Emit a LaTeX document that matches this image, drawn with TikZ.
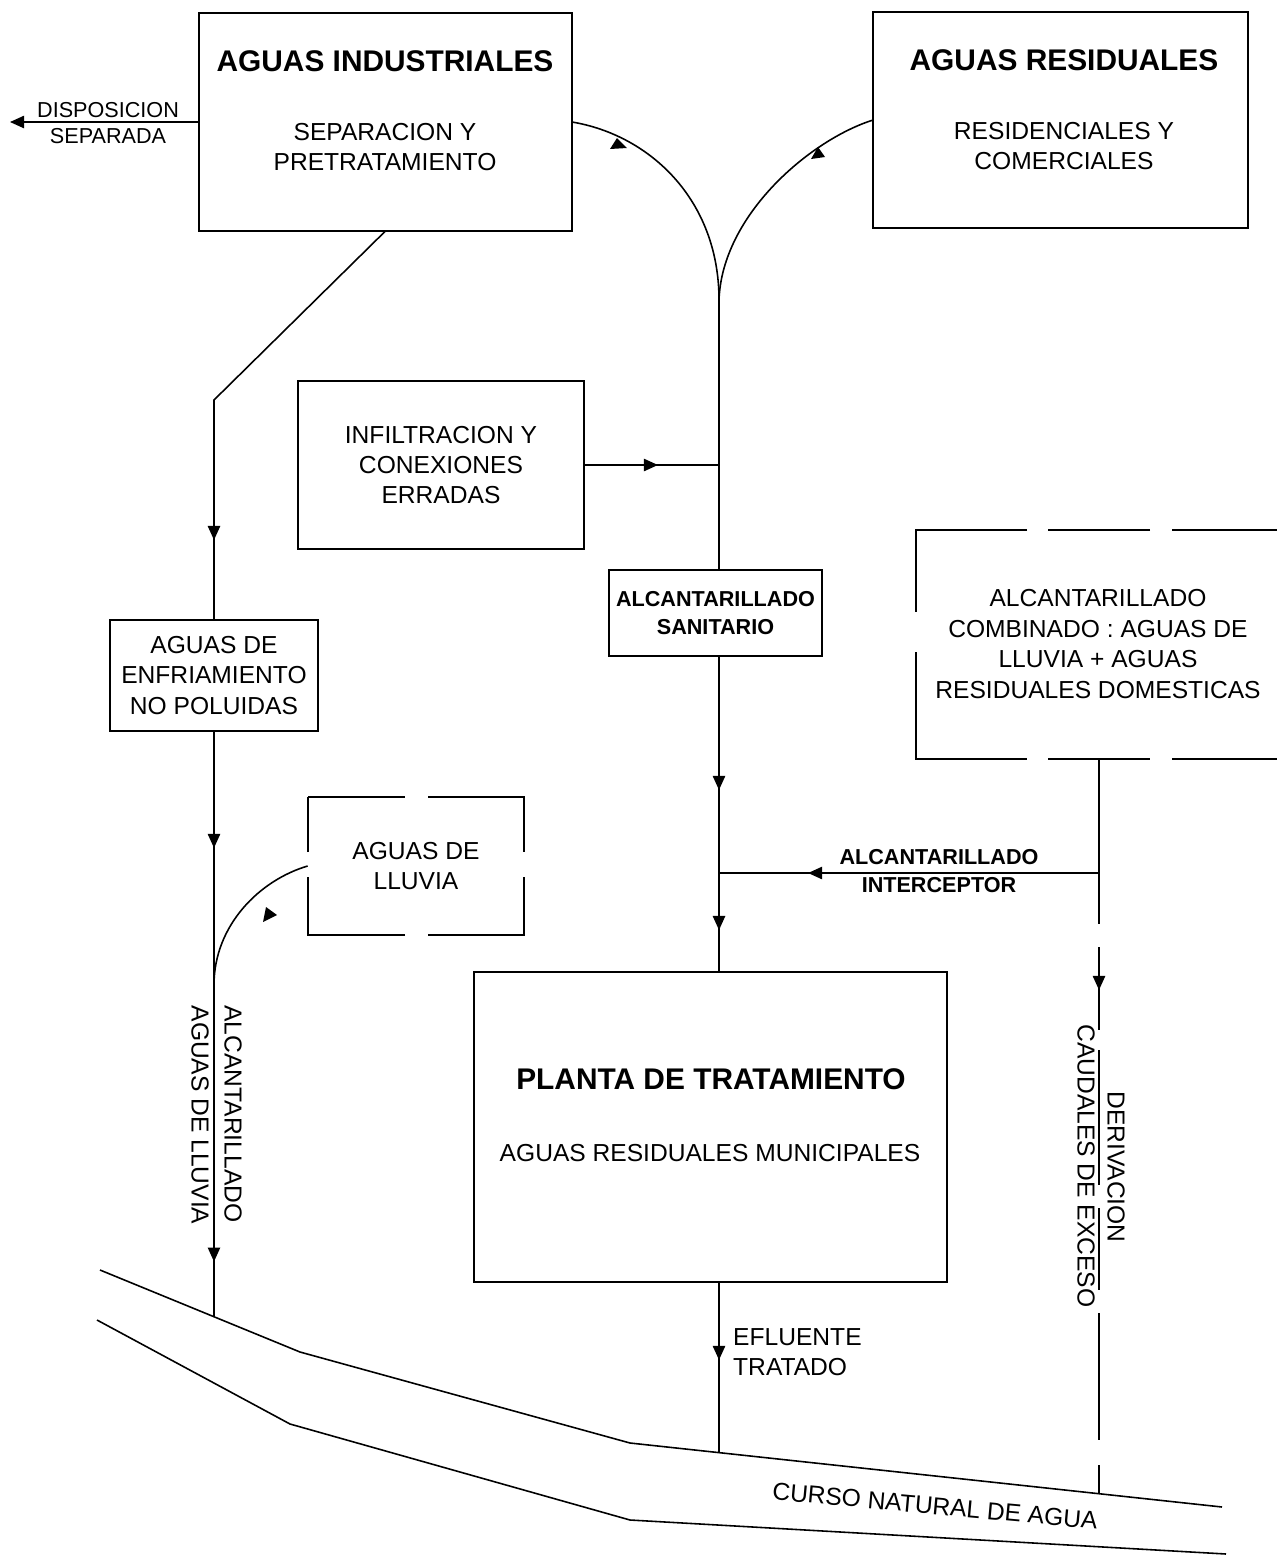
\documentclass[tikz,border=0pt]{standalone}
\usepackage{fontspec}
\setmainfont{Liberation Sans}
\usetikzlibrary{arrows.meta,decorations.markings,calc}

\begin{document}
\begin{tikzpicture}[x=0.02cm, y=-0.02cm,
    box/.style={draw, line width=0.9pt, inner sep=0pt, outer sep=0pt, align=center},
    txt/.style={font=\fontsize{14}{17.3}\selectfont, align=center},
    ttl/.style={font=\fontsize{17}{20}\selectfont\bfseries},
    small/.style={font=\fontsize{12.3}{15.3}\selectfont, align=center},
    flow/.style={line width=0.9pt},
    flowtip/.style={postaction={decorate, decoration={markings,
        mark=at position #1 with {\arrow{Triangle[width=7pt,length=8pt]}}}}}]

\useasboundingbox (0,0) rectangle (1277,1556);

% boxes
\node[box, minimum width=7.46cm, minimum height=4.36cm] (ind) at (385.5,122) {};
\node[ttl] (indT) at (385,61) {AGUAS INDUSTRIALES};
\node[txt] (indS) at (385,147) {SEPARACION Y\\PRETRATAMIENTO};

\node[box, minimum width=7.5cm, minimum height=4.32cm] (res) at (1060.5,120) {};
\node[ttl] (resT) at (1064,60) {AGUAS RESIDUALES};
\node[txt] (resS) at (1064,146) {RESIDENCIALES Y\\COMERCIALES};

\node[box, txt, minimum width=5.72cm, minimum height=3.36cm] (inf) at (441,465)
    {INFILTRACION Y\\CONEXIONES\\ERRADAS};
\node[box, small, font=\fontsize{12.3}{15.6}\selectfont\bfseries,
    minimum width=4.26cm, minimum height=1.72cm] (san) at (715.5,613)
    {ALCANTARILLADO\\SANITARIO};
\node[box, txt, minimum width=4.16cm, minimum height=2.22cm] (enf) at (214,675.5)
    {AGUAS DE\\ENFRIAMIENTO\\NO POLUIDAS};
\node[txt, minimum width=4.32cm, minimum height=2.76cm] (lluvia) at (416,866)
    {AGUAS DE\\LLUVIA};
\node[txt] (comb) at (1098,644)
    {ALCANTARILLADO\\COMBINADO : AGUAS DE\\LLUVIA + AGUAS\\RESIDUALES DOMESTICAS};

\node[box, minimum width=9.46cm, minimum height=6.2cm] (planta) at (710.5,1127) {};
\node[ttl] (plantaT) at (711,1079) {PLANTA DE TRATAMIENTO};
\node[txt] (plantaS) at (710,1153) {AGUAS RESIDUALES MUNICIPALES};

% open outlines
\draw[flow] (308,797) -- (405,797) (428,797) -- (524,797) -- (524,852)
    (524,877) -- (524,935) -- (428,935) (405,935) -- (308,935) -- (308,877)
    (308,852) -- (308,797);
\draw[flow] (1277,530) -- (1172,530) (1150,530) -- (1048,530) (1027,530) -- (916,530)
    -- (916,612) (916,652) -- (916,759) -- (1027,759) (1048,759) -- (1150,759)
    (1172,759) -- (1277,759);

% river
\draw[flow] (100,1270) -- (300,1352) -- (630,1443) -- (1222,1507);
\draw[flow] (97,1320) -- (290,1424) -- (630,1520) -- (1226,1554);
\node[txt, rotate=-5.2] (curso) at (935,1506) {CURSO NATURAL DE AGUA};

\coordinate (disp) at (10,122);
\coordinate (jTop) at (719,300);
\coordinate (jLluvia) at (214,985);
\coordinate (combS) at (1099,759);
\coordinate (jInt) at (1099,873);
\coordinate (rivL) at (214,1315.6);
\coordinate (rivM) at (719,1452.6);
\coordinate (rivR) at (1099,1493.7);

% connectors
\draw[flow, -{Triangle[width=7pt,length=8pt]}] (ind.west) -- (disp);
\node[small] (dispL) at (108,123) {DISPOSICION\\SEPARADA};

\draw[flow] (ind.east) .. controls (650,135) and (719,200) .. (jTop);
\draw[flow] (res.west) .. controls (810,140) and (722,215) .. (jTop);
\draw[flow] (jTop) -- (jTop |- san.north);
\draw[flow, flowtip=1.48cm] (inf.east) -- (inf.east -| jTop);
\draw[flow, flowtip=2.68cm, flowtip=-0.84cm] (jTop |- san.south) -- (jTop |- planta.north);
\draw[flow, flowtip=5.82cm] (jInt) -- (jInt -| jTop);
\node[small, font=\fontsize{12.3}{15.6}\selectfont\bfseries] (intL) at (939,871)
    {ALCANTARILLADO\\INTERCEPTOR};

\draw[flow, flowtip=1.56cm] (jTop |- planta.south) -- (rivM);
\node[txt, align=left, anchor=west] (eflL) at (727,1352) {EFLUENTE\\TRATADO};

\draw[flow, flowtip=-1.6cm] (ind.south) -- (214,400) -- (enf.north);
\draw[flow, flowtip=2.34cm, flowtip=-1.08cm] (enf.south) -- (rivL);
\draw[flow] (lluvia.west) .. controls (260,880) and (214,925) .. (jLluvia);
\node[txt, rotate=-90] (alcL) at (233,1114) {ALCANTARILLADO};
\node[txt, rotate=-90] (agL) at (200,1115) {AGUAS DE LLUVIA};

\draw[flow] (combS) -- (1099,924);
\draw[flow, flowtip=0.86cm] (1099,947) -- (1099,1030);
\draw[flow] (1099,1050) -- (1099,1185) (1099,1208) -- (1099,1290)
    (1099,1313) -- (1099,1440) (1099,1465) -- (rivR);
\node[txt, rotate=-90] (caudL) at (1086,1166) {CAUDALES DE EXCESO};
\node[txt, rotate=-90] (derL) at (1116,1167) {DERIVACION};

% small marks beside the curves
\fill (610,149) -- (627,148) -- (617,138) -- cycle;
\fill (811,159) -- (825,157) -- (818,147) -- cycle;
\fill (263,922) -- (277,915) -- (266,907) -- cycle;

\end{tikzpicture}
\end{document}
